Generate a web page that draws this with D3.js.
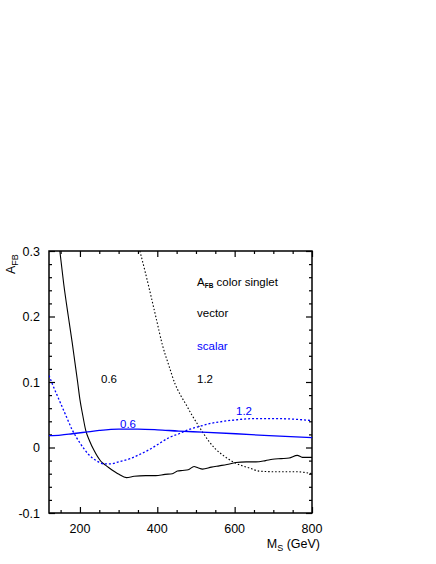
<!DOCTYPE html>
<html>
<head>
<meta charset="utf-8">
<script src="https://cdn.jsdelivr.net/npm/d3@7"></script>
<style>
  body { margin: 0; background: #fff; }
  svg { display: block; font-family: "Liberation Sans", Arial, sans-serif; }
</style>
</head>
<body>
<script>
// A_FB vs M_S, color singlet: vector (black) and scalar (blue), couplings 0.6 (solid) and 1.2 (dotted)
const xDomain = [120, 800];
const yDomain = [-0.1, 0.3];
const xTicks = [200, 400, 600, 800];
const yTicks = [-0.1, 0, 0.1, 0.2, 0.3];
const yTickLabels = ["-0.1", "0", "0.1", "0.2", "0.3"];

// [M_S (GeV), A_FB]
const vector06 = [
  [148, 0.3], [158, 0.25], [170, 0.2], [180, 0.16], [187, 0.13], [194, 0.1],
  [200, 0.073], [207, 0.05], [215, 0.026], [225, 0.01], [236, -0.004],
  [254, -0.021], [266, -0.027], [275, -0.031], [290, -0.037], [301, -0.041],
  [320, -0.046], [340, -0.044], [370, -0.043], [396, -0.043], [420, -0.041],
  [439, -0.040], [452, -0.036], [465, -0.035], [480, -0.034], [495, -0.029],
  [505, -0.031], [517, -0.033], [540, -0.030], [560, -0.028], [580, -0.026],
  [603, -0.023], [630, -0.022], [655, -0.022], [680, -0.020], [698, -0.018],
  [720, -0.017], [741, -0.016], [762, -0.012], [775, -0.015], [800, -0.015]
];
const vector12 = [
  [355, 0.3], [370, 0.265], [383, 0.233], [398, 0.195], [413, 0.157],
  [430, 0.125], [446, 0.097], [460, 0.08], [472, 0.068], [489, 0.05],
  [509, 0.031], [534, 0.009], [550, -0.002], [568, -0.011], [585, -0.018],
  [603, -0.024], [620, -0.028], [637, -0.031], [663, -0.036], [706, -0.037],
  [758, -0.037], [780, -0.038], [800, -0.040]
];
const scalar06 = [
  [120, 0.018], [150, 0.019], [180, 0.021], [215, 0.0235], [250, 0.026],
  [300, 0.028], [350, 0.028], [400, 0.027], [456, 0.025], [516, 0.0235],
  [603, 0.021], [689, 0.018], [800, 0.015]
];
const scalar12 = [
  [120, 0.11], [130, 0.095], [146, 0.073], [165, 0.047], [180, 0.027],
  [200, 0.007], [223, -0.011], [245, -0.021], [262, -0.025], [280, -0.025],
  [300, -0.022], [330, -0.017], [353, -0.011], [380, -0.003], [405, 0.006],
  [430, 0.015], [456, 0.021], [480, 0.027], [508, 0.032], [540, 0.037],
  [560, 0.039], [600, 0.042], [646, 0.044], [715, 0.044], [760, 0.043],
  [800, 0.041]
];

const width = 436, height = 564;
const margin = { top: 251, right: 124, bottom: 51, left: 49 };
const blue = "#0000ff";

const svg = d3.select("body").append("svg")
  .attr("width", width)
  .attr("height", height);

const x = d3.scaleLinear().domain(xDomain).range([margin.left, width - margin.right]);
const y = d3.scaleLinear().domain(yDomain).range([height - margin.bottom, margin.top]);

svg.append("clipPath").attr("id", "plot")
  .append("rect")
  .attr("x", x(xDomain[0])).attr("y", y(yDomain[1]))
  .attr("width", x(xDomain[1]) - x(xDomain[0]))
  .attr("height", y(yDomain[0]) - y(yDomain[1]));

// ticks, all pointing into the frame
const xMinor = d3.range(150, 800, 50).filter(v => !xTicks.includes(v));
const yMinor = d3.range(-0.08, 0.3, 0.02).filter(v => Math.abs(Math.round(v * 10) - v * 10) > 1e-6);

function tickAxes(axisFn, scale, major, minor, transform) {
  svg.append("g").attr("transform", transform)
    .call(axisFn(scale).tickValues(major).tickSize(-6).tickFormat(""))
    .call(g => g.select(".domain").remove());
  svg.append("g").attr("transform", transform)
    .call(axisFn(scale).tickValues(minor).tickSize(-3).tickFormat(""))
    .call(g => g.select(".domain").remove());
}
tickAxes(d3.axisBottom, x, xTicks, xMinor, `translate(0,${y(yDomain[0])})`);
tickAxes(d3.axisTop, x, xTicks, xMinor, `translate(0,${y(yDomain[1])})`);
tickAxes(d3.axisLeft, y, yTicks, yMinor, `translate(${x(xDomain[0])},0)`);
tickAxes(d3.axisRight, y, yTicks, yMinor, `translate(${x(xDomain[1])},0)`);
svg.selectAll(".tick line").attr("stroke", "#000").attr("stroke-width", 1.2);

// frame
svg.append("rect")
  .attr("x", x(xDomain[0])).attr("y", y(yDomain[1]))
  .attr("width", x(xDomain[1]) - x(xDomain[0]))
  .attr("height", y(yDomain[0]) - y(yDomain[1]))
  .attr("fill", "none").attr("stroke", "#000").attr("stroke-width", 1.5);

// tick labels
svg.append("g").selectAll("text").data(xTicks).join("text")
  .attr("x", d => x(d)).attr("y", y(yDomain[0]) + 20)
  .attr("text-anchor", "middle").attr("font-size", 12.5)
  .text(d => d);
svg.append("g").selectAll("text").data(yTicks).join("text")
  .attr("x", x(xDomain[0]) - 9).attr("y", d => y(d) + 4.5)
  .attr("text-anchor", "end").attr("font-size", 12.5)
  .text((d, i) => yTickLabels[i]);

// axis titles
const xt = svg.append("text")
  .attr("x", 320).attr("y", 548)
  .attr("text-anchor", "end").attr("font-size", 12.5);
xt.append("tspan").text("M");
xt.append("tspan").attr("dy", 3).attr("font-size", 9).text("S");
xt.append("tspan").attr("dy", -3).text(" (GeV)");

const yt = svg.append("text")
  .attr("transform", "translate(15,274) rotate(-90)")
  .attr("font-size", 12.5);
yt.append("tspan").text("A");
yt.append("tspan").attr("dy", 3).attr("font-size", 9).text("FB");

// curves
const line = d3.line()
  .x(d => x(d[0])).y(d => y(d[1]))
  .curve(d3.curveMonotoneX);

const curves = [
  { data: vector06, color: "#000", dash: null, w: 1.1 },
  { data: vector12, color: "#000", dash: "1.5,2", w: 1.1 },
  { data: scalar06, color: blue, dash: null, w: 1.3 },
  { data: scalar12, color: blue, dash: "2,2", w: 1.3 }
];
svg.append("g").attr("clip-path", "url(#plot)")
  .selectAll("path").data(curves).join("path")
  .attr("d", d => line(d.data))
  .attr("fill", "none")
  .attr("stroke", d => d.color)
  .attr("stroke-width", d => d.w)
  .attr("stroke-dasharray", d => d.dash);

// legend and curve labels
const lg = svg.append("text").attr("x", 197).attr("y", 286).attr("font-size", 11.5);
lg.append("tspan").text("A");
lg.append("tspan").attr("dy", 2).attr("font-size", 6.5).attr("font-weight", "bold").text("FB");
lg.append("tspan").attr("dy", -2).text(" color singlet");

const labels = [
  { t: "vector", x: 197, y: 317, c: "#000" },
  { t: "scalar", x: 197, y: 350, c: blue },
  { t: "0.6", x: 101, y: 383, c: "#000" },
  { t: "1.2", x: 197, y: 383, c: "#000" },
  { t: "0.6", x: 120, y: 428, c: blue },
  { t: "1.2", x: 236, y: 415, c: blue }
];
svg.append("g").selectAll("text").data(labels).join("text")
  .attr("x", d => d.x).attr("y", d => d.y)
  .attr("font-size", 11.5).attr("fill", d => d.c)
  .text(d => d.t);
</script>
</body>
</html>
